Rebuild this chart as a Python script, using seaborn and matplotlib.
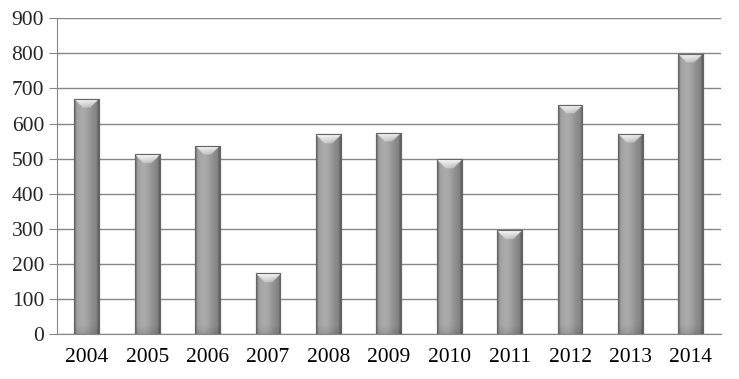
import numpy as np
import pandas as pd
import matplotlib
matplotlib.use("Agg")
import matplotlib.pyplot as plt
import seaborn as sns

years = ["2004", "2005", "2006", "2007", "2008", "2009", "2010", "2011", "2012", "2013", "2014"]
values = [671, 512, 537, 173, 569, 574, 498, 296, 654, 571, 799]
y_ticks = [0, 100, 200, 300, 400, 500, 600, 700, 800, 900]

sns.set_style("white")
plt.rcParams["font.family"] = ["Liberation Serif", "DejaVu Serif"]

df = pd.DataFrame({"year": years, "value": values})

fig = plt.figure(figsize=(7.39, 3.79), dpi=100)
ax = fig.add_axes([0.0767, 0.1187, 0.899, 0.833])

sns.barplot(data=df, x="year", y="value", color="#9a9a9a", width=0.41,
            edgecolor="#5a5a5a", linewidth=0.8, ax=ax, zorder=3)

ymax = 900
px_per_unit = (0.833 * 379) / ymax
px_per_cat = 0.899 * 739 / len(years)

for p in ax.patches:
    x0, w, h = p.get_x(), p.get_width(), p.get_height()
    wpx = w * px_per_cat
    hpx = h * px_per_unit
    nx, ny = 80, 300
    xpix = np.linspace(0, wpx, nx)
    u = xpix / wpx
    prof = 0.56 + 0.13 * np.exp(-((u - 0.38) / 0.35) ** 2) - 0.06 * u
    edge = np.clip(1 - np.minimum(xpix, wpx - xpix) / 2.5, 0, 1)
    prof = prof * (1 - edge) + 0.36 * edge
    ypix = np.linspace(hpx, 0, ny)  # top row first
    bot = np.clip((9 - ypix) / 9, 0, 1)
    vert = 1 - 0.10 * bot
    img = np.clip(prof[None, :] * vert[:, None], 0, 1)
    # top bevel: white chevron fading down
    bh = 9.0
    dtop = hpx - ypix
    side = np.minimum(xpix, wpx - xpix)
    bevel = (dtop[:, None] < bh) & (dtop[:, None] < side[None, :] * 1.0 + 0.5)
    tfade = np.clip(1 - dtop / bh, 0, 1)[:, None] * np.ones((1, nx))
    img = np.where(bevel, img + (0.98 - img) * (0.35 + 0.65 * tfade), img)
    rgb = np.dstack([img, img, img])
    im = ax.imshow(rgb, extent=[x0, x0 + w, 0, h], aspect="auto", zorder=4,
                   interpolation="bilinear")
    im.set_clip_path(p)
    ax.add_patch(plt.Rectangle((x0, 0), w, h, fill=False, edgecolor="#666666",
                               lw=0.8, zorder=6))

ax.set_xlim(-0.5, len(years) - 0.5)
ax.set_ylim(0, ymax)
ax.set_yticks(y_ticks)
ax.set_xlabel("")
ax.set_ylabel("")

ax.grid(axis="y", color="#868686", linewidth=1.0, zorder=0)
ax.set_axisbelow(True)
for s in ["top", "right"]:
    ax.spines[s].set_visible(False)
ax.spines["left"].set_color("#868686")
ax.spines["bottom"].set_color("#868686")

ax.set_xticks(np.arange(len(years)))
ax.set_xticklabels(years)
ax.tick_params(axis="x", length=0, labelsize=15.5, pad=10, colors="black")
ax.set_xticks(np.arange(len(years) + 1) - 0.5, minor=True)
ax.tick_params(axis="x", which="minor", length=6, color="#868686", direction="out")
ax.tick_params(axis="y", length=6, color="#868686", labelsize=15.5, pad=3,
               direction="out", left=True)

fig.savefig("out.png", dpi=100)
